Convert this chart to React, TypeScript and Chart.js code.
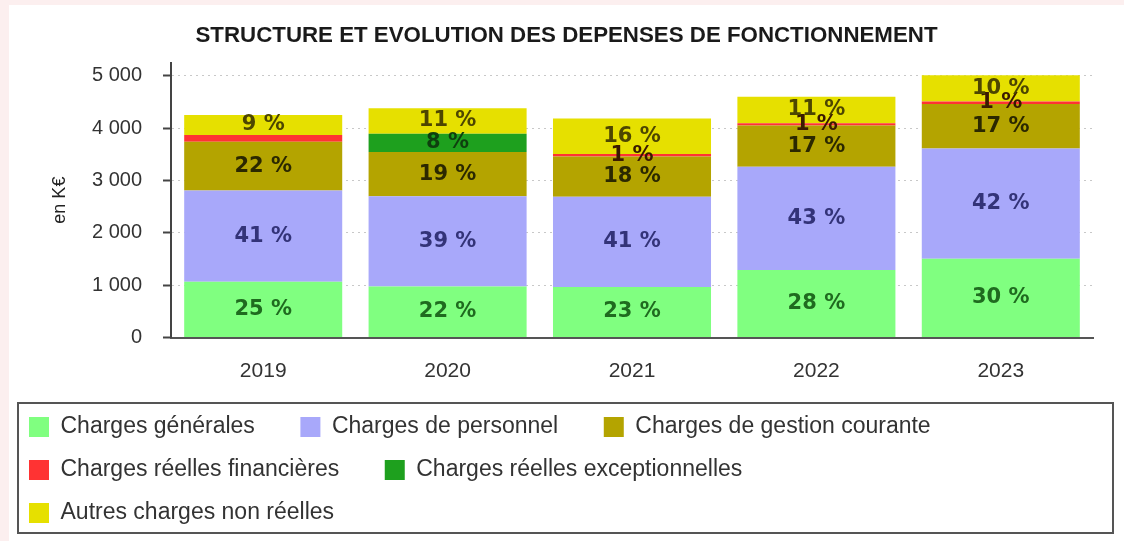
import React, { useEffect, useRef } from 'react';
import { Chart, registerables } from 'chart.js';

Chart.register(...registerables);

// ---------- data ----------
const years = ['2019', '2020', '2021', '2022', '2023'];

const chargesGenerales = [1065, 975, 965, 1290, 1505];
const chargesPersonnel = [1745, 1725, 1725, 1975, 2105];
const chargesGestion = [930, 845, 770, 785, 850];
const chargesFinancieres = [130, 0, 45, 45, 50];
const chargesExceptionnelles = [0, 350, 0, 0, 0];
const autresCharges = [380, 485, 680, 505, 500];

// percentages printed on the bars (as read on the picture)
const pctGenerales = [25, 22, 23, 28, 30];
const pctPersonnel = [41, 39, 41, 43, 42];
const pctGestion = [22, 19, 18, 17, 17];
const pctFinancieres = [null, null, 1, 1, 1];
const pctExceptionnelles = [null, 8, null, null, null];
const pctAutres = [9, 11, 16, 11, 10];

const yTickValues = [0, 1000, 2000, 3000, 4000, 5000];

const seriesNames = [
  'Charges générales',
  'Charges de personnel',
  'Charges de gestion courante',
  'Charges réelles financières',
  'Charges réelles exceptionnelles',
  'Autres charges non réelles',
];
const seriesValues = [
  chargesGenerales,
  chargesPersonnel,
  chargesGestion,
  chargesFinancieres,
  chargesExceptionnelles,
  autresCharges,
];
const seriesPct = [pctGenerales, pctPersonnel, pctGestion, pctFinancieres, pctExceptionnelles, pctAutres];
const seriesColors = ['#80ff80', '#a8a8fa', '#b4a400', '#ff3333', '#1ea01e', '#e6e000'];
const labelColors = ['#1f6b1f', '#333378', '#2b2800', '#3a1a00', '#0f3f0f', '#4d4600'];

const titleText = 'STRUCTURE ET EVOLUTION DES DEPENSES DE FONCTIONNEMENT';
const yTitle = 'en K€';
const yMax = 5250;

const SANS = '"Liberation Sans", Arial, sans-serif';

const formatThousands = (v: number) => String(v).replace(/\B(?=(\d{3})+(?!\d))/g, ' ');

const pctLabelsPlugin = {
  id: 'pctLabels',
  afterDatasetsDraw(chart: any) {
    const ctx = chart.ctx;
    ctx.save();
    ctx.font = 'bold 21px "DejaVu Sans", sans-serif';
    ctx.textAlign = 'center';
    ctx.textBaseline = 'middle';
    chart.data.datasets.forEach((_ds: any, i: number) => {
      const meta = chart.getDatasetMeta(i);
      meta.data.forEach((bar: any, j: number) => {
        const p = seriesPct[i][j];
        if (p === null || p === undefined) return;
        const { x, y, base } = bar.getProps(['x', 'y', 'base'], true);
        ctx.fillStyle = labelColors[i];
        ctx.fillText(`${p} %`, x, (y + base) / 2);
      });
    });
    ctx.restore();
  },
};

const legendBoxPlugin = {
  id: 'legendBox',
  afterDraw(chart: any) {
    const lg = chart.legend;
    if (!lg) return;
    const ctx = chart.ctx;
    ctx.save();
    ctx.strokeStyle = '#555';
    ctx.lineWidth = 2;
    ctx.strokeRect(lg.left + 9, lg.top + 7.5, 1095, 130);
    ctx.restore();
  },
};

export default function App() {
  const canvasRef = useRef<HTMLCanvasElement | null>(null);

  useEffect(() => {
    document.body.style.margin = '0';
    document.body.style.background = '#fcefef';
    document.body.style.overflow = 'hidden';
    const canvas = canvasRef.current;
    if (!canvas) return;

    const chart = new Chart(canvas, {
      type: 'bar',
      data: {
        labels: years,
        datasets: seriesNames.map((name, i) => ({
          label: name,
          data: seriesValues[i],
          backgroundColor: seriesColors[i],
          borderWidth: 0,
          barPercentage: 0.857,
          categoryPercentage: 1,
          yAxisID: 'y',
        })),
      },
      options: {
        responsive: false,
        animation: false,
        devicePixelRatio: 1,
        layout: { padding: { left: 0, right: 0, top: 0, bottom: 6.5 } },
        plugins: {
          tooltip: { enabled: false },
          title: {
            display: true,
            text: titleText,
            color: '#1a1a1a',
            font: { family: SANS, size: 22.3, weight: 'bold' },
            padding: { top: 17, bottom: 14 },
          },
          legend: {
            position: 'bottom',
            align: 'start',
            labels: {
              color: '#333',
              font: { family: SANS, size: 23 },
              boxWidth: 20,
              boxHeight: 20,
              padding: 20,
              generateLabels: (c: any) =>
                (Chart.defaults.plugins.legend.labels.generateLabels as any)(c).map((l: any) => ({
                  ...l,
                  text: l.text + '    ',
                  lineWidth: 0,
                })),
            },
          },
        },
        scales: {
          x: {
            stacked: true,
            grid: { display: false },
            border: { display: true, color: '#555', width: 2 },
            ticks: { color: '#333', font: { family: SANS, size: 21 }, padding: 13 },
            afterFit: (s: any) => {
              s.height = 58;
            },
          },
          y: {
            stacked: true,
            position: 'left',
            min: 0,
            max: yMax,
            afterBuildTicks: (s: any) => {
              s.ticks = yTickValues.map((v) => ({ value: v }));
            },
            ticks: {
              color: '#333',
              font: { family: SANS, size: 20 },
              padding: 21,
              callback: (v: any) => formatThousands(Number(v)),
            },
            grid: {
              color: '#c8c8c8',
              lineWidth: 1,
              tickColor: '#444',
              tickWidth: 2,
              tickLength: 8,
              tickBorderDash: [],
            },
            border: { display: true, color: '#444', width: 2, dash: [2, 4] },
            title: {
              display: true,
              text: yTitle,
              color: '#222',
              font: { family: SANS, size: 18 },
              padding: { top: 40, bottom: 0 },
            },
            afterFit: (s: any) => {
              s.width = 162;
            },
          },
          y2: {
            type: 'linear',
            position: 'right',
            display: true,
            grid: { display: false },
            border: { display: false },
            ticks: { display: false },
            afterFit: (s: any) => {
              s.width = 31;
            },
          },
        },
      } as any,
      plugins: [pctLabelsPlugin, legendBoxPlugin],
    });

    return () => {
      chart.destroy();
    };
  }, []);

  return (
    <div
      style={{
        position: 'absolute',
        left: 9,
        top: 5,
        width: 1115,
        height: 536,
        background: '#ffffff',
      }}
    >
      <canvas ref={canvasRef} width={1115} height={536} style={{ display: 'block' }} />
    </div>
  );
}
